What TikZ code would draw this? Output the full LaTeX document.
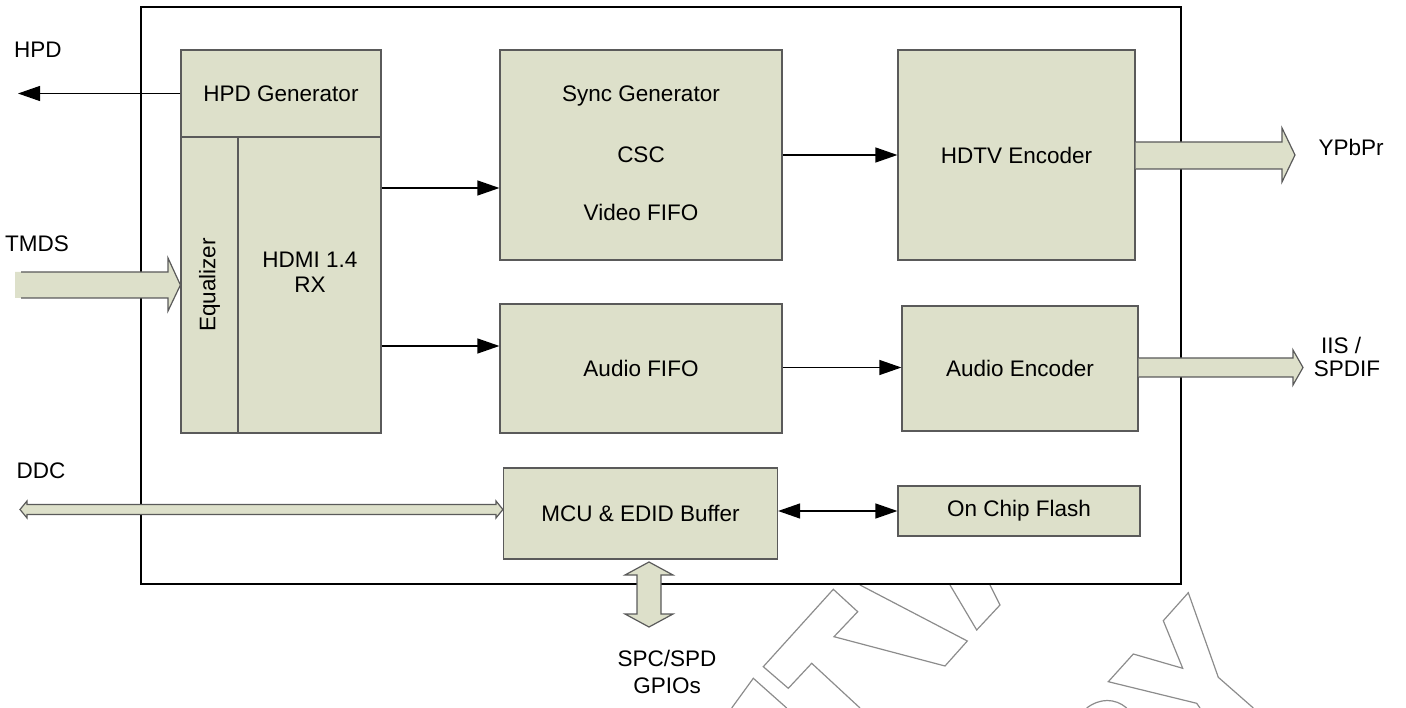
\documentclass[tikz,border=0pt]{standalone}
\usepackage{fontspec}
\setmainfont{Liberation Sans}
\usetikzlibrary{arrows.meta,calc}
\definecolor{boxfill}{HTML}{DDE0CA}
\definecolor{boxline}{HTML}{5A5A5A}
\definecolor{wmark}{HTML}{8C8C8C}
\newcommand\dfont{\fontsize{22.5}{25}\selectfont}
\begin{document}
\begin{tikzpicture}[x=1pt,y=-1pt,
  chipbox/.style={draw=black, line width=1.3pt, inner sep=0pt, minimum width=1040pt, minimum height=577pt},
  blk/.style={draw=boxline, fill=boxfill, line width=1.2pt, inner sep=0pt, font=\dfont, align=center},
  txt/.style={inner sep=0pt, font=\dfont, align=center},
  arr/.style={draw=black, line width=1.2pt, -{Triangle[length=22pt,width=15pt]}},
  darr/.style={draw=black, line width=1.2pt, {Triangle[length=22pt,width=15pt]}-{Triangle[length=22pt,width=15pt]}},
  barrow/.style={draw=boxline, fill=boxfill, line width=1.2pt, line join=miter},
  wm/.style={draw=wmark, line width=1.2pt, line join=miter}]
\useasboundingbox (0,0) rectangle (1406,708);
% watermark
\draw[wm] (860,585) -- (967.3,641) -- (945,666) -- (834,636.7) -- (857.7,611.7) -- (833.3,589.3) -- (763.3,666.7) -- (788.3,688.3) -- (811.7,663.3) -- (860,708);
\draw[wm] (950,585) -- (976.7,630) -- (1000,605) -- (990,585);
\draw[wm] (731.7,708) -- (753.3,678.3) -- (786.7,708);
\draw[wm] (1200,708) -- (1196.7,703.3) -- (1108.3,681.7) -- (1133.3,654) -- (1182.7,668.3) -- (1163.3,620.7) -- (1188.3,592.7) -- (1218.3,677.3) -- (1253.3,708);
\draw[wm] (1086.7,708) .. controls (1100,698) and (1115,698) .. (1126.7,708);
% chip outline
\node[chipbox] (chip) at (661,295.5) {};
% blocks
\node[blk, minimum width=200pt, minimum height=87pt] (hpdgen) at (281,93.5) {HPD Generator};
\node[blk, minimum width=57pt, minimum height=296pt] (eq) at (209.5,285) {};
\node[blk, minimum width=143pt, minimum height=296pt] (rx) at (309.5,285) {};
\node[txt, rotate=90] (eqlabel) at (209.5,285) {Equalizer};
\node[txt] (rxlabel) at (310,272) {HDMI 1.4\\RX};
\node[blk, minimum width=282pt, minimum height=210pt] (sync) at (641,155) {};
\node[txt] (syncgen) at (641,96) {Sync Generator};
\node[txt] (csc) at (641,155) {CSC};
\node[txt] (vfifo) at (641,212) {Video FIFO};
\node[blk, minimum width=237pt, minimum height=210pt] (hdtv) at (1016.5,155) {HDTV Encoder};
\node[blk, minimum width=282pt, minimum height=129pt] (afifo) at (641,368.5) {Audio FIFO};
\node[blk, minimum width=236pt, minimum height=125pt] (aenc) at (1020,368.5) {Audio Encoder};
\node[blk, minimum width=274pt, minimum height=91pt] (mcu) at (640.5,513.5) {MCU \& EDID Buffer};
\node[blk, minimum width=242pt, minimum height=50pt] (flash) at (1019,511) {On Chip Flash};
% outside labels
\node[txt] (hpdlbl) at (38,50) {HPD};
\node[txt] (tmdslbl) at (37,244) {TMDS};
\node[txt] (ddclbl) at (41,471) {DDC};
\node[txt] (ypbprlbl) at (1351,147) {YPbPr};
\node[txt] (iislbl) at (1341,345) {IIS /};
\node[txt] (spdiflbl) at (1347,369) {SPDIF};
\node[txt] (spclbl) at (667,658) {SPC/SPD};
\node[txt] (gpiolbl) at (667,686) {GPIOs};
% thin connectors
\coordinate (hpdout) at (18,93.5);
\draw[arr] (hpdgen.west) -- (hpdout);
\coordinate (v1) at (0,188);
\draw[arr] (rx.east |- v1) -- (sync.west |- v1);
\draw[arr] (sync.east) -- (hdtv.west);
\coordinate (a1) at (0,346);
\draw[arr] (rx.east |- a1) -- (afifo.west |- a1);
\coordinate (a2) at (0,367.5);
\draw[arr] (afifo.east |- a2) -- (aenc.west |- a2);
\draw[darr] (mcu.east |- flash.west) -- (flash.west);
% block arrows
\fill[boxfill] (15,272) -- (168,272) -- (168,258) -- (eq.west |- 0,285) -- (168,311) -- (168,298) -- (15,298) -- cycle;
\draw[boxline, line width=1.2pt, line join=miter] (21,272) -- (168,272) -- (168,258) -- (eq.west |- 0,285) -- (168,311) -- (168,298) -- (21,298);
\draw[barrow] (hdtv.east |- 0,142) -- (1282,142) -- (1282,128) -- (1295,155) -- (1282,182) -- (1282,169) -- (hdtv.east |- 0,169);
\draw[barrow] (aenc.east |- 0,358) -- (1293,358) -- (1293,350) -- (1303,367.5) -- (1293,385) -- (1293,377) -- (aenc.east |- 0,377);
\draw[barrow] (20,509.5) -- (27,501) -- (27,504.5) -- (496,504.5) -- (496,501) -- (mcu.west |- 0,509.5) -- (496,518) -- (496,514.5) -- (27,514.5) -- (27,518) -- cycle;
\draw[barrow] (649,562) -- (673,575) -- (661,575) -- (661,614) -- (673,614) -- (649,627) -- (625,614) -- (637,614) -- (637,575) -- (625,575) -- cycle;
\end{tikzpicture}
\end{document}
